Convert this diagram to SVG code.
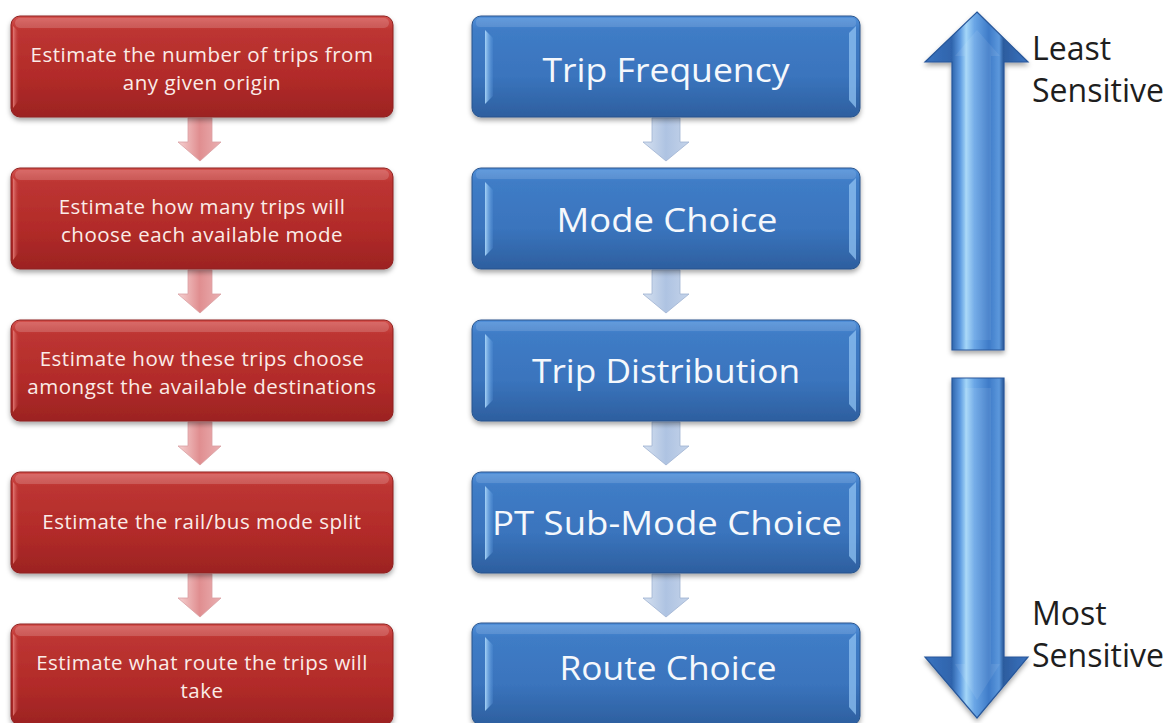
<svg xmlns="http://www.w3.org/2000/svg" width="1174" height="723" viewBox="0 0 1174 723">
  <defs>
    <linearGradient id="redFill" x1="0" y1="0" x2="0" y2="1">
      <stop offset="0" stop-color="#d4524f"/>
      <stop offset="0.14" stop-color="#bd3532"/>
      <stop offset="0.6" stop-color="#b22b29"/>
      <stop offset="1" stop-color="#9c2322"/>
    </linearGradient>
    <linearGradient id="blueFill" x1="0" y1="0" x2="0" y2="1">
      <stop offset="0" stop-color="#5190da"/>
      <stop offset="0.14" stop-color="#3f7cc6"/>
      <stop offset="0.6" stop-color="#3a74bd"/>
      <stop offset="1" stop-color="#2d5f9f"/>
    </linearGradient>
    <linearGradient id="redBevel" x1="0" y1="0" x2="1" y2="0">
      <stop offset="0" stop-color="#e6817c" stop-opacity="0.9"/>
      <stop offset="1" stop-color="#c44340" stop-opacity="0"/>
    </linearGradient>
    <linearGradient id="blueBevel" x1="0" y1="0" x2="1" y2="0">
      <stop offset="0" stop-color="#a5d2f7"/>
      <stop offset="1" stop-color="#5c9ae0" stop-opacity="0.2"/>
    </linearGradient>
    <linearGradient id="pinkArrow" x1="0" y1="0" x2="1" y2="0">
      <stop offset="0" stop-color="#f6d2d2"/>
      <stop offset="0.5" stop-color="#e08e90"/>
      <stop offset="1" stop-color="#eab0b2"/>
    </linearGradient>
    <linearGradient id="paleBlueArrow" x1="0" y1="0" x2="1" y2="0">
      <stop offset="0" stop-color="#d6e1f0"/>
      <stop offset="0.5" stop-color="#aec3e2"/>
      <stop offset="1" stop-color="#c5d4ea"/>
    </linearGradient>
    <linearGradient id="bigArrow" x1="925" y1="0" x2="1028" y2="0" gradientUnits="userSpaceOnUse">
      <stop offset="0" stop-color="#3a73c0"/>
      <stop offset="0.26" stop-color="#2f64ac"/>
      <stop offset="0.34" stop-color="#5d9ae0"/>
      <stop offset="0.4" stop-color="#a4d6f8"/>
      <stop offset="0.48" stop-color="#6aa6e6"/>
      <stop offset="0.62" stop-color="#3e7bc8"/>
      <stop offset="0.72" stop-color="#5c98dc"/>
      <stop offset="0.76" stop-color="#2c5c9e"/>
      <stop offset="1" stop-color="#3a73c0"/>
    </linearGradient>
    <filter id="shadow" x="-5%" y="-10%" width="110%" height="130%">
      <feDropShadow dx="0" dy="3" stdDeviation="2.5" flood-color="#000" flood-opacity="0.35"/>
    </filter>
  </defs>
  <style>
    .red-box { fill: url(#redFill); stroke: #8e1f1e; stroke-width: 1; filter: url(#shadow); }
    .blue-box { fill: url(#blueFill); stroke: #29548c; stroke-width: 1; filter: url(#shadow); }
    .red-shine { fill: #ffffff; opacity: 0.16; }
    .blue-shine { fill: #ffffff; opacity: 0.12; }
    .red-side { fill: url(#redBevel); }
    .blue-side { fill: url(#blueBevel); }
    .blue-edge { fill: #8fc2f2; opacity: 0.75; }
    .red-text { font-family: "Open Sans", "Noto Sans", sans-serif; font-size: 20.5px; letter-spacing: 0.5px; fill: #fbece8; text-anchor: middle; }
    .blue-text { font-family: "Open Sans", "Noto Sans", sans-serif; font-size: 32px; fill: #f5f8fc; text-anchor: middle; }
    .side-text { font-family: "Open Sans", "Noto Sans", sans-serif; font-size: 32px; fill: #1e1e1e; }
    .step-red { fill: url(#pinkArrow); stroke: #d9a0a2; stroke-width: 0.8; }
    .step-blue { fill: url(#paleBlueArrow); stroke: #9fb3d2; stroke-width: 0.8; }
    .big-arrow { fill: url(#bigArrow); stroke: #28579a; stroke-width: 1.2; filter: url(#shadow); }
  </style>

  <rect width="1174" height="723" fill="#ffffff"/>

  <!-- connectors: step arrows between boxes -->
  <g id="connectors">
    <polygon class="step-red" points="188,118 212,118 212,142 221,142 200,161 178,142 188,142"/>
    <polygon class="step-red" points="188,270 212,270 212,294 221,294 200,313 178,294 188,294"/>
    <polygon class="step-red" points="188,422 212,422 212,446 221,446 200,465 178,446 188,446"/>
    <polygon class="step-red" points="188,574 212,574 212,598 221,598 200,617 178,598 188,598"/>
    <polygon class="step-blue" points="652,118 680,118 680,142 689,142 666,161 643,142 652,142"/>
    <polygon class="step-blue" points="652,270 680,270 680,294 689,294 666,313 643,294 652,294"/>
    <polygon class="step-blue" points="652,422 680,422 680,446 689,446 666,465 643,446 652,446"/>
    <polygon class="step-blue" points="652,574 680,574 680,598 689,598 666,617 643,598 652,598"/>
  </g>

  <!-- left column: what each stage estimates -->
  <g id="estimate-origin">
    <rect class="red-box" x="11" y="16" width="382" height="101" rx="9"/>
    <rect class="red-shine" x="15" y="18" width="374" height="10" rx="5"/>
    <polygon class="red-side" points="13,26 19,32 19,100 13,108"/>
    <text class="red-text" x="202" y="62">Estimate the number of trips from</text>
    <text class="red-text" x="202" y="90">any given origin</text>
  </g>
  <g id="estimate-mode">
    <rect class="red-box" x="11" y="168" width="382" height="101" rx="9"/>
    <rect class="red-shine" x="15" y="170" width="374" height="10" rx="5"/>
    <polygon class="red-side" points="13,178 19,184 19,252 13,260"/>
    <text class="red-text" x="202" y="214">Estimate how many trips will</text>
    <text class="red-text" x="202" y="242">choose each available mode</text>
  </g>
  <g id="estimate-destination">
    <rect class="red-box" x="11" y="320" width="382" height="101" rx="9"/>
    <rect class="red-shine" x="15" y="322" width="374" height="10" rx="5"/>
    <polygon class="red-side" points="13,330 19,336 19,404 13,412"/>
    <text class="red-text" x="202" y="366">Estimate how these trips choose</text>
    <text class="red-text" x="202" y="394">amongst the available destinations</text>
  </g>
  <g id="estimate-split">
    <rect class="red-box" x="11" y="472" width="382" height="101" rx="9"/>
    <rect class="red-shine" x="15" y="474" width="374" height="10" rx="5"/>
    <polygon class="red-side" points="13,482 19,488 19,556 13,564"/>
    <text class="red-text" x="202" y="529">Estimate the rail/bus mode split</text>
  </g>
  <g id="estimate-route">
    <rect class="red-box" x="11" y="624" width="382" height="101" rx="9"/>
    <rect class="red-shine" x="15" y="626" width="374" height="10" rx="5"/>
    <polygon class="red-side" points="13,634 19,640 19,708 13,716"/>
    <text class="red-text" x="202" y="670">Estimate what route the trips will</text>
    <text class="red-text" x="202" y="698">take</text>
  </g>

  <!-- middle column: model stages -->
  <g id="trip-frequency">
    <rect class="blue-box" x="472" y="16" width="388" height="101" rx="9"/>
    <rect class="blue-shine" x="476" y="18" width="380" height="9" rx="4"/>
    <polygon class="blue-side" points="485,30 493,38 493,96 485,104"/>
    <polygon class="blue-edge" points="849,33 856,26 856,108 849,100"/>
    <text class="blue-text" x="666" y="82" textLength="247" lengthAdjust="spacingAndGlyphs">Trip Frequency</text>
  </g>
  <g id="mode-choice">
    <rect class="blue-box" x="472" y="168" width="388" height="101" rx="9"/>
    <rect class="blue-shine" x="476" y="170" width="380" height="9" rx="4"/>
    <polygon class="blue-side" points="485,182 493,190 493,248 485,256"/>
    <polygon class="blue-edge" points="849,185 856,178 856,260 849,252"/>
    <text class="blue-text" x="667" y="232" textLength="221" lengthAdjust="spacingAndGlyphs">Mode Choice</text>
  </g>
  <g id="trip-distribution">
    <rect class="blue-box" x="472" y="320" width="388" height="101" rx="9"/>
    <rect class="blue-shine" x="476" y="322" width="380" height="9" rx="4"/>
    <polygon class="blue-side" points="485,334 493,342 493,400 485,408"/>
    <polygon class="blue-edge" points="849,337 856,330 856,412 849,404"/>
    <text class="blue-text" x="666" y="383" textLength="268" lengthAdjust="spacingAndGlyphs">Trip Distribution</text>
  </g>
  <g id="pt-sub-mode-choice">
    <rect class="blue-box" x="472" y="472" width="388" height="101" rx="9"/>
    <rect class="blue-shine" x="476" y="474" width="380" height="9" rx="4"/>
    <polygon class="blue-side" points="485,486 493,494 493,552 485,560"/>
    <polygon class="blue-edge" points="849,489 856,482 856,564 849,556"/>
    <text class="blue-text" x="667" y="535" textLength="350" lengthAdjust="spacingAndGlyphs">PT Sub-Mode  Choice</text>
  </g>
  <g id="route-choice">
    <rect class="blue-box" x="472" y="623" width="388" height="102" rx="9"/>
    <rect class="blue-shine" x="476" y="625" width="380" height="9" rx="4"/>
    <polygon class="blue-side" points="485,637 493,645 493,703 485,711"/>
    <polygon class="blue-edge" points="849,640 856,633 856,715 849,707"/>
    <text class="blue-text" x="668" y="680" textLength="217" lengthAdjust="spacingAndGlyphs">Route Choice</text>
  </g>

  <!-- right column: sensitivity scale -->
  <g id="least-sensitive">
    <polygon class="big-arrow" points="977,12 1028,62 1004,62 1004,350 952,350 952,62 925,62"/>
    <polygon points="977,30 1000,56 991,56 991,340 965,340 965,56 955,56" fill="#ffffff" opacity="0.08"/>
    <text class="side-text" x="1032" y="60">Least</text>
    <text class="side-text" x="1032" y="102">Sensitive</text>
  </g>
  <g id="most-sensitive">
    <polygon class="big-arrow" points="952,378 1004,378 1004,657 1028,657 977,718 925,657 952,657"/>
    <polygon points="965,388 991,388 991,664 1000,664 977,700 955,664 965,664" fill="#ffffff" opacity="0.08"/>
    <text class="side-text" x="1032" y="625">Most</text>
    <text class="side-text" x="1032" y="667">Sensitive</text>
  </g>
</svg>
